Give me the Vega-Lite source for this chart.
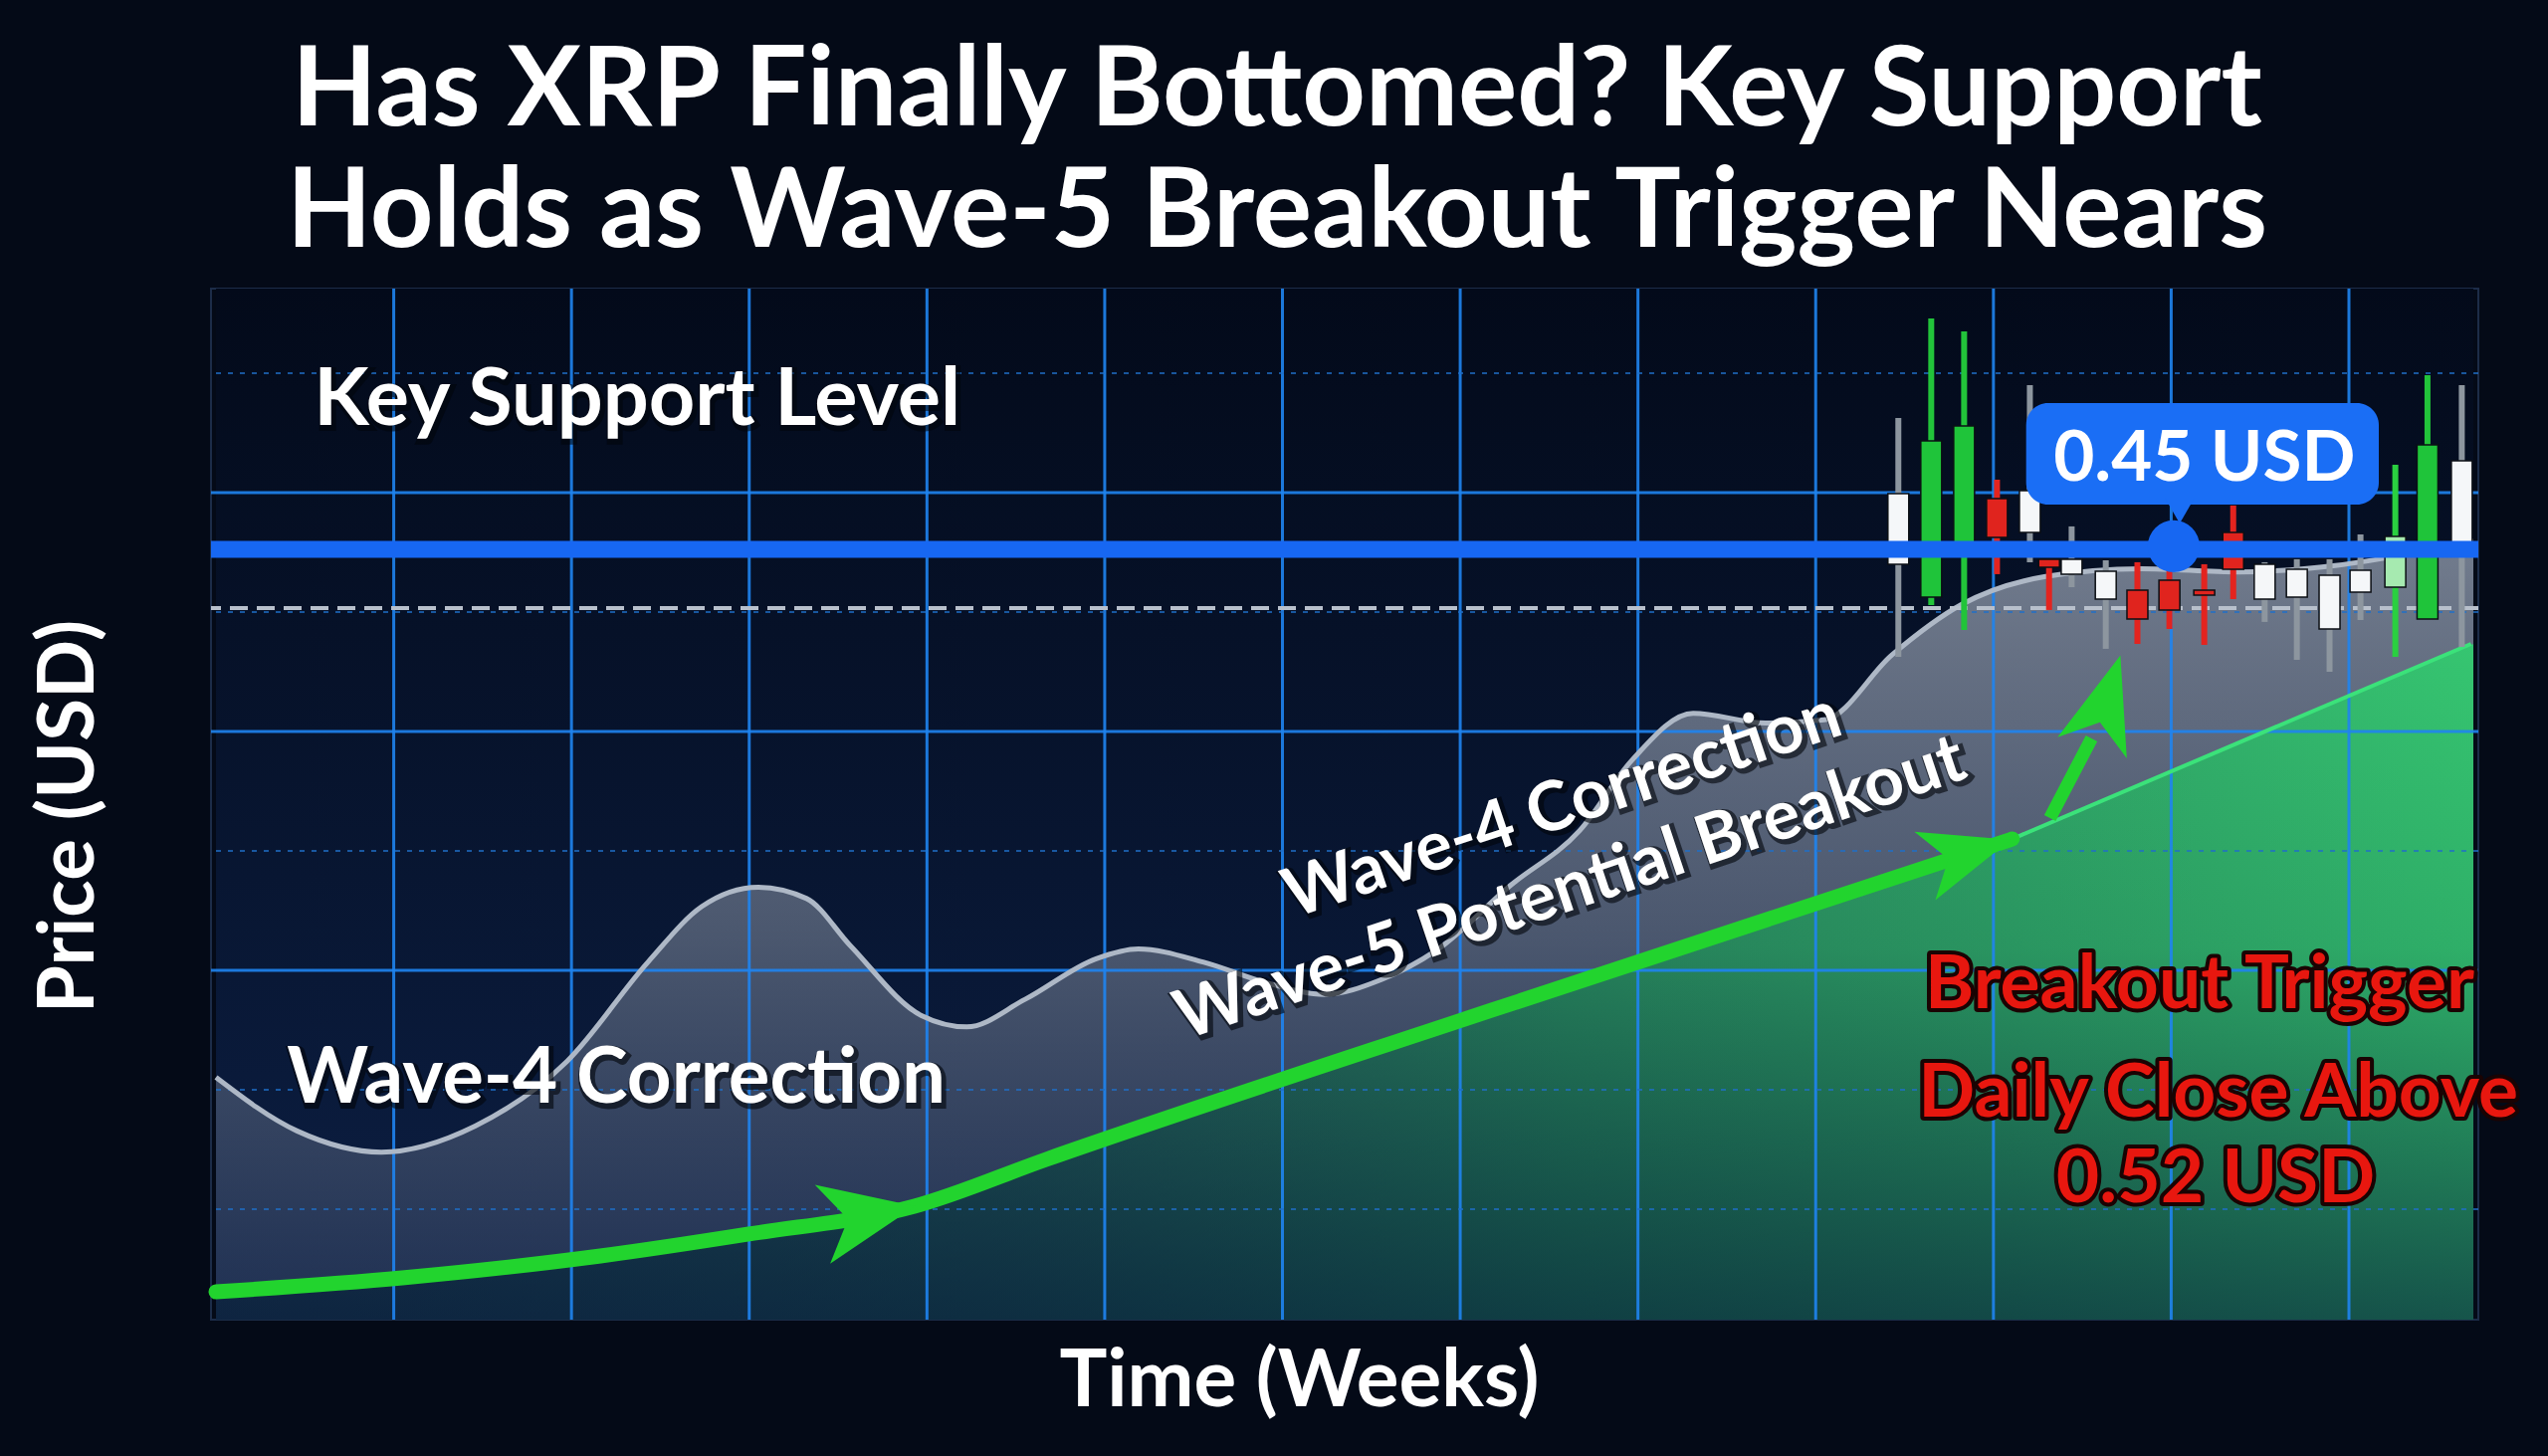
{
  "$schema": "https://vega.github.io/schema/vega-lite/v6.json",
  "width": 2278,
  "height": 1036,
  "autosize": "none",
  "padding": {"left": 212, "top": 290, "right": 70, "bottom": 137},
  "background": "#040a17",
  "title": {
    "text": ["Has XRP Finally Bottomed? Key Support", "Holds as Wave-5 Breakout Trigger Nears"],
    "anchor": "middle",
    "frame": "group",
    "font": "Lato",
    "fontWeight": "bold",
    "fontSize": 111,
    "lineHeight": 122,
    "color": "#ffffff",
    "offset": 18,
    "dx": -68
  },
  "config": {
    "view": {"stroke": "#1c2c48", "strokeWidth": 2},
    "axis": {"grid": false, "labels": false, "ticks": false, "domain": false, "titleColor": "#ffffff", "titleFont": "Lato", "titleFontWeight": "bold"}
  },
  "datasets": {
    "curve": [
      {"x": 0, "y": 2.104}, {"x": 0.456, "y": 1.655}, {"x": 0.93, "y": 1.478}, {"x": 1.458, "y": 1.696},
      {"x": 1.976, "y": 2.24}, {"x": 2.431, "y": 3.07}, {"x": 2.732, "y": 3.533}, {"x": 3.05, "y": 3.696},
      {"x": 3.323, "y": 3.601}, {"x": 3.569, "y": 3.206}, {"x": 3.969, "y": 2.621}, {"x": 4.224, "y": 2.526},
      {"x": 4.552, "y": 2.757}, {"x": 4.952, "y": 3.097}, {"x": 5.189, "y": 3.179}, {"x": 5.553, "y": 3.07},
      {"x": 5.917, "y": 2.893}, {"x": 6.236, "y": 2.798}, {"x": 6.554, "y": 2.921}, {"x": 6.864, "y": 3.165},
      {"x": 7.282, "y": 3.71}, {"x": 7.673, "y": 4.172}, {"x": 7.965, "y": 4.757}, {"x": 8.311, "y": 5.152},
      {"x": 8.72, "y": 5.07}, {"x": 9.048, "y": 5.097}, {"x": 9.43, "y": 5.642}, {"x": 9.822, "y": 6.064},
      {"x": 10.286, "y": 6.295}, {"x": 10.832, "y": 6.363}, {"x": 11.378, "y": 6.336}, {"x": 11.924, "y": 6.39},
      {"x": 12.379, "y": 6.499}, {"x": 12.7, "y": 6.594}
    ],
    "greenLine": [
      {"x": 0, "y": 0.308}, {"x": 1.048, "y": 0.425}, {"x": 2.163, "y": 0.608}, {"x": 2.999, "y": 0.792},
      {"x": 3.93, "y": 1.025}, {"x": 4.671, "y": 1.417}, {"x": 7.179, "y": 2.667}, {"x": 10.106, "y": 4.1}
    ],
    "greenArea": [
      {"x": 0, "y": 0.308}, {"x": 1.048, "y": 0.425}, {"x": 2.163, "y": 0.608}, {"x": 2.999, "y": 0.792},
      {"x": 3.93, "y": 1.025}, {"x": 4.671, "y": 1.417}, {"x": 7.179, "y": 2.667}, {"x": 10.106, "y": 4.1},
      {"x": 12.7, "y": 5.733}
    ],
    "greenEdge": [
      {"x": 10.106, "y": 4.1}, {"x": 12.687, "y": 5.733}
    ],
    "candles": [
      {"x": 9.465, "low": 5.625, "high": 7.625, "open": 6.992, "close": 6.4, "kind": "white"},
      {"x": 9.65, "low": 6.058, "high": 8.458, "open": 6.125, "close": 7.433, "kind": "green"},
      {"x": 9.835, "low": 5.85, "high": 8.35, "open": 6.583, "close": 7.558, "kind": "green"},
      {"x": 10.02, "low": 6.317, "high": 7.108, "open": 6.95, "close": 6.625, "kind": "red"},
      {"x": 10.205, "low": 6.417, "high": 7.9, "open": 7.017, "close": 6.667, "kind": "white"},
      {"x": 10.313, "low": 6.017, "high": 6.442, "open": 6.442, "close": 6.375, "kind": "red"},
      {"x": 10.44, "low": 6.208, "high": 6.717, "open": 6.442, "close": 6.317, "kind": "white"},
      {"x": 10.632, "low": 5.692, "high": 6.433, "open": 6.342, "close": 6.108, "kind": "white"},
      {"x": 10.81, "low": 5.733, "high": 6.417, "open": 6.183, "close": 5.942, "kind": "red"},
      {"x": 10.99, "low": 5.858, "high": 6.433, "open": 6.267, "close": 6.017, "kind": "red"},
      {"x": 11.186, "low": 5.725, "high": 6.4, "open": 6.183, "close": 6.142, "kind": "red"},
      {"x": 11.349, "low": 6.108, "high": 6.892, "open": 6.667, "close": 6.358, "kind": "red"},
      {"x": 11.526, "low": 5.917, "high": 6.417, "open": 6.4, "close": 6.108, "kind": "white"},
      {"x": 11.707, "low": 5.6, "high": 6.442, "open": 6.358, "close": 6.125, "kind": "white"},
      {"x": 11.891, "low": 5.5, "high": 6.442, "open": 6.308, "close": 5.858, "kind": "white"},
      {"x": 12.065, "low": 5.933, "high": 6.65, "open": 6.35, "close": 6.167, "kind": "white"},
      {"x": 12.261, "low": 5.625, "high": 7.233, "open": 6.208, "close": 6.633, "kind": "light"},
      {"x": 12.442, "low": 5.942, "high": 7.983, "open": 5.942, "close": 7.4, "kind": "green"},
      {"x": 12.635, "low": 5.708, "high": 7.9, "open": 7.267, "close": 6.583, "kind": "white"}
    ],
    "whiteText1": [{"x": 2.37, "y": 7.567, "label": "Key Support Level"}],
    "whiteText2": [{"x": 2.252, "y": 1.892, "label": "Wave-4 Correction"}],
    "rotText": [
      {"x": 7.575, "y": 4.375, "label": "Wave-4 Correction"},
      {"x": 7.62, "y": 3.683, "label": "Wave-5 Potential Breakout"}
    ],
    "redText": [
      {"x": 11.16, "y": 2.683, "label": "Breakout Trigger"},
      {"x": 11.265, "y": 1.775, "label": "Daily Close Above"},
      {"x": 11.25, "y": 1.058, "label": "0.52 USD"}
    ]
  },
  "layer": [
    {
      "data": {"values": [{"x0": 0, "x1": 12.7, "y0": 0.075, "y1": 8.708}]},
      "mark": {"type": "rect", "color": {"gradient": "linear", "x1": 0, "y1": 0, "x2": 0, "y2": 1, "stops": [{"offset": 0, "color": "#030a1a"}, {"offset": 1, "color": "#0c1f44"}]}},
      "encoding": {
        "x": {"field": "x0", "type": "quantitative", "scale": {"domain": [0, 12.7], "nice": false, "zero": false},
              "axis": {"title": "Time (Weeks)", "titleFontSize": 80, "titleX": 1093, "titleY": 62, "titleBaseline": "middle", "titleAlign": "center"}},
        "x2": {"field": "x1"},
        "y": {"field": "y0", "type": "quantitative", "scale": {"domain": [0.075, 8.708], "nice": false, "zero": false},
              "axis": {"title": "Price (USD)", "titleFontSize": 78, "titleX": -142, "titleY": 530, "titleAngle": -90, "titleBaseline": "middle", "titleAlign": "center"}},
        "y2": {"field": "y1"}
      }
    },
    {
      "data": {"name": "curve"},
      "mark": {"type": "area", "interpolate": "monotone", "color": {"gradient": "linear", "x1": 0, "y1": 0, "x2": 0, "y2": 1, "stops": [{"offset": 0, "color": "rgba(160,170,186,0.7)"}, {"offset": 0.5, "color": "rgba(120,131,150,0.6)"}, {"offset": 1, "color": "rgba(50,66,98,0.5)"}]}},
      "encoding": {"x": {"field": "x", "type": "quantitative"}, "y": {"field": "y", "type": "quantitative"}, "y2": {"datum": 0.075}}
    },
    {
      "data": {"name": "greenArea"},
      "mark": {"type": "area", "interpolate": "linear", "color": {"gradient": "linear", "x1": 0, "y1": 0, "x2": 1, "y2": 0, "stops": [{"offset": 0, "color": "rgba(20,90,80,0.2)"}, {"offset": 0.35, "color": "rgba(25,120,85,0.5)"}, {"offset": 0.6, "color": "rgba(35,155,92,0.8)"}, {"offset": 1, "color": "rgba(52,200,112,0.97)"}]}},
      "encoding": {"x": {"field": "x", "type": "quantitative"}, "y": {"field": "y", "type": "quantitative"}, "y2": {"datum": 0.075}}
    },
    {
      "data": {"name": "greenArea"},
      "mark": {"type": "area", "interpolate": "linear", "color": {"gradient": "linear", "x1": 0, "y1": 0, "x2": 0, "y2": 1, "stops": [{"offset": 0, "color": "rgba(5,20,45,0)"}, {"offset": 0.45, "color": "rgba(5,25,50,0.12)"}, {"offset": 1, "color": "rgba(6,25,55,0.65)"}]}},
      "encoding": {"x": {"field": "x", "type": "quantitative"}, "y": {"field": "y", "type": "quantitative"}, "y2": {"datum": 0.075}}
    },
    {
      "data": {"values": [{"x": 1}, {"x": 2}, {"x": 3}, {"x": 4}, {"x": 5}, {"x": 6}, {"x": 7}, {"x": 8}, {"x": 9}, {"x": 10}, {"x": 11}, {"x": 12}]},
      "mark": {"type": "rule", "color": "#1f84f0", "strokeWidth": 3, "opacity": 0.9},
      "encoding": {"x": {"field": "x", "type": "quantitative"}}
    },
    {
      "data": {"values": [{"y": 3}, {"y": 5}, {"y": 7}]},
      "mark": {"type": "rule", "color": "#1f84f0", "strokeWidth": 3, "opacity": 0.9},
      "encoding": {"y": {"field": "y", "type": "quantitative"}}
    },
    {
      "data": {"values": [{"y": 1}, {"y": 2}, {"y": 4}, {"y": 6}, {"y": 8}]},
      "mark": {"type": "rule", "color": "#1f6fc8", "strokeWidth": 2, "strokeDash": [5, 7], "opacity": 0.75},
      "encoding": {"y": {"field": "y", "type": "quantitative"}}
    },
    {
      "data": {"name": "curve"},
      "mark": {"type": "line", "interpolate": "monotone", "color": "#aeb8c6", "strokeWidth": 5},
      "encoding": {"x": {"field": "x", "type": "quantitative"}, "y": {"field": "y", "type": "quantitative"}}
    },
    {
      "data": {"values": [{"y": 6.033}]},
      "mark": {"type": "rule", "color": "#b8c0cc", "strokeWidth": 4, "strokeDash": [18, 9]},
      "encoding": {"y": {"field": "y", "type": "quantitative"}}
    },
    {
      "data": {"name": "greenEdge"},
      "mark": {"type": "line", "color": "#3be27a", "strokeWidth": 4},
      "encoding": {"x": {"field": "x", "type": "quantitative"}, "y": {"field": "y", "type": "quantitative"}}
    },
    {
      "data": {"name": "greenLine"},
      "mark": {"type": "line", "interpolate": "monotone", "color": "#22d42e", "strokeWidth": 15, "strokeCap": "round"},
      "encoding": {"x": {"field": "x", "type": "quantitative"}, "y": {"field": "y", "type": "quantitative"}}
    },
    {
      "data": {"values": [{"x": 10.318, "y": 4.275}, {"x": 10.552, "y": 4.942}]},
      "mark": {"type": "line", "color": "#22d42e", "strokeWidth": 13},
      "encoding": {"x": {"field": "x", "type": "quantitative"}, "y": {"field": "y", "type": "quantitative"}}
    },
    {
      "data": {"values": [{"x": 3.673, "y": 0.95}]},
      "mark": {"type": "point", "shape": "M1,0L-1,-0.85L-0.45,0L-1,0.85Z", "filled": true, "color": "#22d42e", "opacity": 1, "size": 9000, "angle": -11},
      "encoding": {"x": {"field": "x", "type": "quantitative"}, "y": {"field": "y", "type": "quantitative"}}
    },
    {
      "data": {"values": [{"x": 9.855, "y": 3.983}]},
      "mark": {"type": "point", "shape": "M1,0L-1,-0.8L-0.45,0L-1,0.8Z", "filled": true, "color": "#22d42e", "opacity": 1, "size": 8100, "angle": -17},
      "encoding": {"x": {"field": "x", "type": "quantitative"}, "y": {"field": "y", "type": "quantitative"}}
    },
    {
      "data": {"values": [{"x": 10.635, "y": 5.25}]},
      "mark": {"type": "point", "shape": "M1,0L-1,-0.75L-0.45,0L-1,0.75Z", "filled": true, "color": "#22d42e", "opacity": 1, "size": 9400, "angle": -73},
      "encoding": {"x": {"field": "x", "type": "quantitative"}, "y": {"field": "y", "type": "quantitative"}}
    },
    {
      "data": {"name": "candles"},
      "mark": {"type": "rule", "strokeWidth": 6},
      "encoding": {
        "x": {"field": "x", "type": "quantitative"},
        "y": {"field": "low", "type": "quantitative"},
        "y2": {"field": "high"},
        "stroke": {"field": "kind", "type": "nominal", "scale": {"domain": ["white", "green", "red", "light"], "range": ["#8d969f", "#22c43a", "#e3241f", "#2ad040"]}, "legend": null}
      }
    },
    {
      "data": {"name": "candles"},
      "mark": {"type": "bar", "size": 21, "stroke": "#0b0f14", "strokeWidth": 1.5, "opacity": 1},
      "encoding": {
        "x": {"field": "x", "type": "quantitative"},
        "y": {"field": "open", "type": "quantitative"},
        "y2": {"field": "close"},
        "color": {"field": "kind", "type": "nominal", "scale": {"domain": ["white", "green", "red", "light"], "range": ["#f5f7f9", "#1fc43a", "#e0241e", "#a6eab0"]}, "legend": null}
      }
    },
    {
      "data": {"values": [{"y": 6.525}]},
      "mark": {"type": "rule", "color": "#1767f2", "strokeWidth": 17},
      "encoding": {"y": {"field": "y", "type": "quantitative"}}
    },
    {
      "data": {"values": [{"x0": 10.184, "x1": 12.168, "y0": 6.9, "y1": 7.75}]},
      "mark": {"type": "rect", "color": "#1a6ef5", "cornerRadius": 22},
      "encoding": {"x": {"field": "x0", "type": "quantitative"}, "x2": {"field": "x1"}, "y": {"field": "y0", "type": "quantitative"}, "y2": {"field": "y1"}}
    },
    {
      "data": {"values": [{"x": 11.048, "y": 6.85}]},
      "mark": {"type": "point", "shape": "triangle-down", "filled": true, "color": "#1a6ef5", "opacity": 1, "size": 900},
      "encoding": {"x": {"field": "x", "type": "quantitative"}, "y": {"field": "y", "type": "quantitative"}}
    },
    {
      "data": {"values": [{"x": 11.014, "y": 6.55}]},
      "mark": {"type": "point", "shape": "circle", "filled": true, "color": "#1767f2", "opacity": 1, "size": 2730},
      "encoding": {"x": {"field": "x", "type": "quantitative"}, "y": {"field": "y", "type": "quantitative"}}
    },
    {
      "data": {"values": [{"x": 11.187, "y": 7.1, "label": "0.45 USD"}]},
      "mark": {"type": "text", "font": "Lato", "fontWeight": "bold", "fontSize": 71, "color": "#ffffff", "align": "center", "baseline": "alphabetic"},
      "encoding": {"x": {"field": "x", "type": "quantitative"}, "y": {"field": "y", "type": "quantitative"}, "text": {"field": "label"}}
    },
    {
      "data": {"name": "whiteText1"},
      "mark": {"type": "text", "font": "Lato", "fontWeight": "bold", "fontSize": 81, "color": "#02050a", "stroke": "#02050a", "strokeWidth": 6, "opacity": 0.55, "dx": 2, "dy": 3, "align": "center", "baseline": "alphabetic"},
      "encoding": {"x": {"field": "x", "type": "quantitative"}, "y": {"field": "y", "type": "quantitative"}, "text": {"field": "label"}}
    },
    {
      "data": {"name": "whiteText1"},
      "mark": {"type": "text", "font": "Lato", "fontWeight": "bold", "fontSize": 81, "color": "#ffffff", "align": "center", "baseline": "alphabetic"},
      "encoding": {"x": {"field": "x", "type": "quantitative"}, "y": {"field": "y", "type": "quantitative"}, "text": {"field": "label"}}
    },
    {
      "data": {"name": "whiteText2"},
      "mark": {"type": "text", "font": "Lato", "fontWeight": "bold", "fontSize": 78, "color": "#02050a", "stroke": "#02050a", "strokeWidth": 6, "opacity": 0.6, "dx": 2, "dy": 3, "align": "center", "baseline": "alphabetic"},
      "encoding": {"x": {"field": "x", "type": "quantitative"}, "y": {"field": "y", "type": "quantitative"}, "text": {"field": "label"}}
    },
    {
      "data": {"name": "whiteText2"},
      "mark": {"type": "text", "font": "Lato", "fontWeight": "bold", "fontSize": 78, "color": "#ffffff", "align": "center", "baseline": "alphabetic"},
      "encoding": {"x": {"field": "x", "type": "quantitative"}, "y": {"field": "y", "type": "quantitative"}, "text": {"field": "label"}}
    },
    {
      "data": {"name": "rotText"},
      "mark": {"type": "text", "font": "Lato", "fontWeight": "bold", "fontSize": 69, "angle": -18.5, "color": "#02050a", "stroke": "#02050a", "strokeWidth": 6, "opacity": 0.6, "dx": 2, "dy": 3, "align": "center", "baseline": "middle"},
      "encoding": {"x": {"field": "x", "type": "quantitative"}, "y": {"field": "y", "type": "quantitative"}, "text": {"field": "label"}}
    },
    {
      "data": {"name": "rotText"},
      "mark": {"type": "text", "font": "Lato", "fontWeight": "bold", "fontSize": 69, "angle": -18.5, "color": "#ffffff", "align": "center", "baseline": "middle"},
      "encoding": {"x": {"field": "x", "type": "quantitative"}, "y": {"field": "y", "type": "quantitative"}, "text": {"field": "label"}}
    },
    {
      "data": {"name": "redText"},
      "mark": {"type": "text", "font": "Lato", "fontWeight": "bold", "fontSize": 75, "color": "#e8170f", "stroke": "#1a0303", "strokeWidth": 8, "strokeJoin": "round", "align": "center", "baseline": "alphabetic"},
      "encoding": {"x": {"field": "x", "type": "quantitative"}, "y": {"field": "y", "type": "quantitative"}, "text": {"field": "label"}}
    },
    {
      "data": {"name": "redText"},
      "mark": {"type": "text", "font": "Lato", "fontWeight": "bold", "fontSize": 75, "color": "#e8170f", "align": "center", "baseline": "alphabetic"},
      "encoding": {"x": {"field": "x", "type": "quantitative"}, "y": {"field": "y", "type": "quantitative"}, "text": {"field": "label"}}
    }
  ]
}
